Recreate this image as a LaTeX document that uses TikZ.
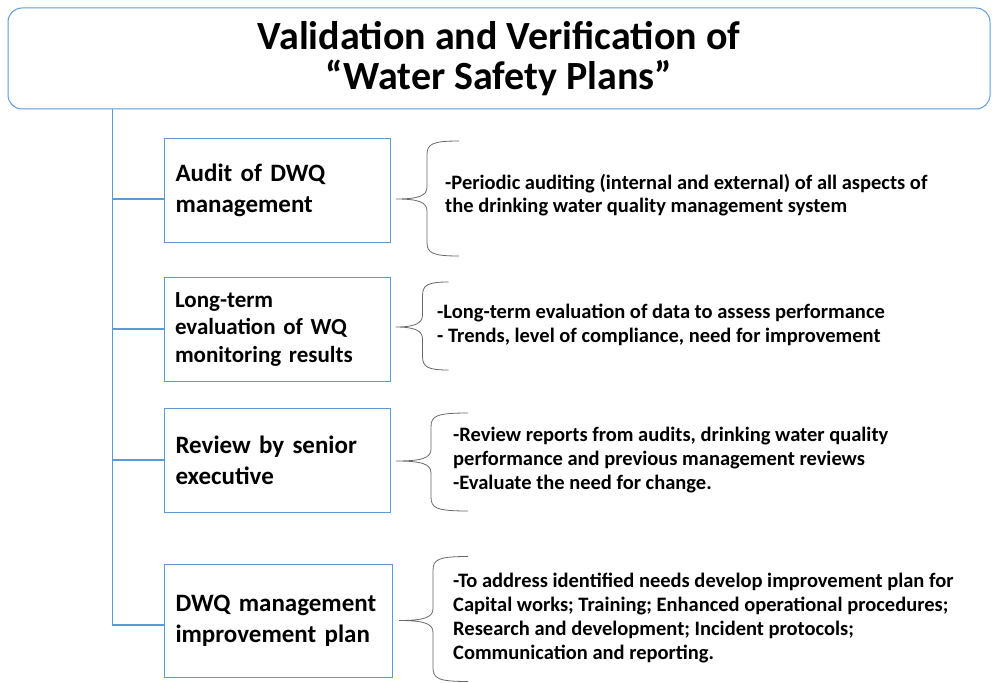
\documentclass[tikz,border=0pt]{standalone}
\usepackage{fontspec}
\setmainfont{Carlito}
\usetikzlibrary{calc}
\definecolor{wspblue}{RGB}{91,155,213}
\definecolor{bracegray}{RGB}{105,105,105}
% curly brace as drawn by the office tool: tip, spine offset, rise, drop, arm
\newcommand{\wbrace}[5]{%
  \begin{scope}[shift={(#1)}]
    \draw[brc] (#2+#5,-#3) .. controls (#2+5,-#3) and (#2,-#3+3) .. (#2,-#3+14) -- (#2,-12)
      .. controls (#2,-3) and (#2-9,0) .. (0,0) .. controls (#2-9,0) and (#2,3) .. (#2,12)
      -- (#2,#4-14) .. controls (#2,#4-3) and (#2+5,#4) .. (#2+#5,#4);
  \end{scope}}

\begin{document}
\begin{tikzpicture}[x=1pt,y=-1pt,
    stepbox/.style={draw=wspblue,line width=1pt,inner xsep=11pt,align=left,
      font=\bfseries\fontsize{25}{31}\selectfont},
    note/.style={anchor=west,align=left,inner sep=0pt,
      font=\bfseries\fontsize{20.5}{24}\selectfont},
    brc/.style={draw=bracegray,line width=0.8pt},
    trunk/.style={draw=wspblue,line width=1.2pt}]
  \useasboundingbox (0,0) rectangle (992,682);
  \node[draw=wspblue,rounded corners=14pt,line width=1pt,minimum width=982pt,minimum height=101pt,
    align=center,font=\bfseries\fontsize{40}{42}\selectfont] (title) at (499,58.5)
    {\raisebox{-2pt}{Validation and Verification of}\\“Water Safety Plans”};
  % the four steps
  \node[stepbox,text width=204pt,minimum height=104pt] (audit) at (277.5,190) {Audit of DWQ\\management};
  \node[stepbox,text width=204pt,minimum height=104pt,font=\bfseries\fontsize{23}{27.5}\selectfont] (trend) at (277,329)
    {Long-term\\evaluation of WQ\\monitoring results};
  \node[stepbox,text width=204pt,minimum height=104pt] (review) at (277.5,460) {Review by senior\\executive};
  \node[stepbox,text width=206pt,minimum height=113pt] (improve) at (278.5,620.5) {DWQ management\\improvement plan};
  % what each step means
  \node[note,font=\bfseries\fontsize{20.5}{23}\selectfont] (auditnote) at (445,195) {-Periodic auditing (internal and external) of all aspects of\\the drinking water quality management system};
  \node[note] (trendnote) at (437,325) {-Long-term evaluation of data to assess performance\\- Trends, level of compliance, need for improvement};
  \node[note] (reviewnote) at (453,460.5) {-Review reports from audits, drinking water quality\\performance and previous management reviews\\-Evaluate the need for change.};
  \node[note] (improvenote) at (453,618.5) {-To address identified needs develop improvement plan for\\Capital works; Training; Enhanced operational procedures;\\Research and development; Incident protocols;\\Communication and reporting.};
  % trunk and branches
  \coordinate (root) at ([xshift=105pt]title.south west);
  \foreach \b/\s in {audit/-9,trend/0,review/0,improve/-4.5}
    \draw[trunk] (root) |- ([yshift=\s pt]\b.west);
  % braces
  \wbrace{[xshift=5pt,yshift=-9pt]audit.east}{31}{58}{57}{32}
  \wbrace{[xshift=5pt,yshift=2pt]trend.east}{27}{45}{43}{26}
  \wbrace{[xshift=5pt,yshift=-1pt]review.east}{35}{48}{50}{37}
  \wbrace{[xshift=6pt,yshift=0pt]improve.east}{34}{64}{61}{35}
\end{tikzpicture}
\end{document}
